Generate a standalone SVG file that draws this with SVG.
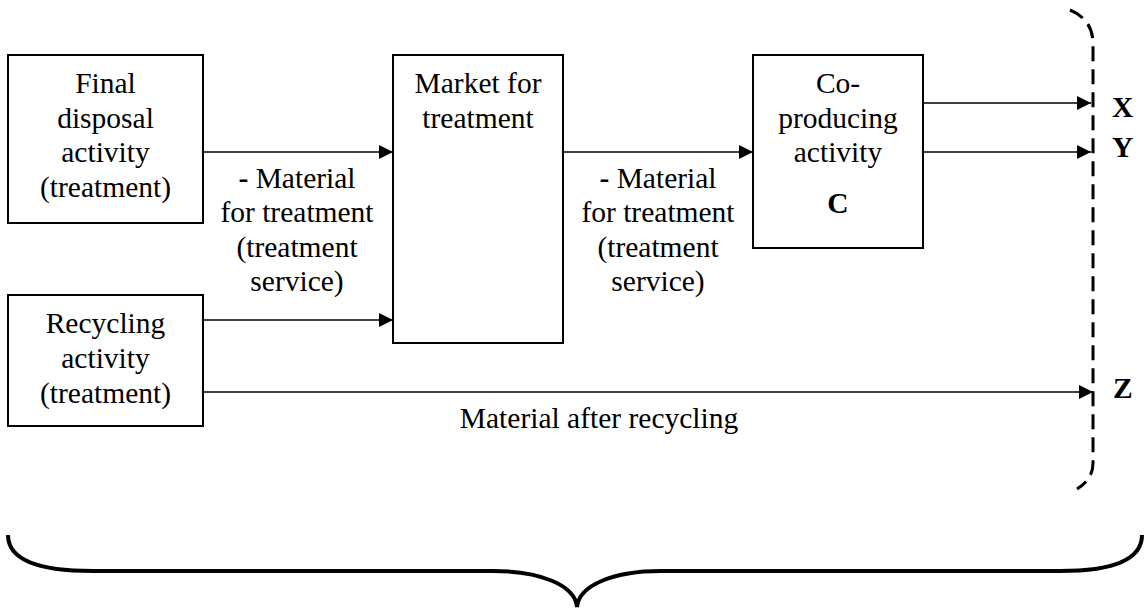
<svg xmlns="http://www.w3.org/2000/svg" width="1146" height="610" viewBox="0 0 1146 610">
  <style>
    .box { fill: #fff; stroke: #000; stroke-width: 2; }
    .lbl { font-family: "Liberation Serif", serif; font-size: 29.5px; fill: #000; text-anchor: middle; }
    .out { font-family: "Liberation Serif", serif; font-size: 29.5px; font-weight: bold; fill: #000; text-anchor: start; }
    .b { font-weight: bold; }
    .edge { fill: none; stroke: #000; stroke-width: 1.6; }
    .bound { fill: none; stroke: #000; stroke-width: 3; stroke-dasharray: 15 8; }
    .brace { fill: none; stroke: #000; stroke-width: 4; }
  </style>
  <defs>
    <marker id="arrow" markerUnits="userSpaceOnUse" markerWidth="15" markerHeight="14" refX="14" refY="7" orient="auto">
      <path d="M0,0 L14,7 L0,14 z" fill="#000"/>
    </marker>
  </defs>
  <rect width="1146" height="610" fill="#fff"/>

  <!-- flows between activities -->
  <g id="connectors">
    <line class="edge" x1="203" y1="152" x2="393" y2="152" marker-end="url(#arrow)"/>
    <line class="edge" x1="203" y1="320" x2="393" y2="320" marker-end="url(#arrow)"/>
    <line class="edge" x1="563" y1="152" x2="753" y2="152" marker-end="url(#arrow)"/>
    <line class="edge" x1="923" y1="103" x2="1091" y2="103" marker-end="url(#arrow)"/>
    <line class="edge" x1="923" y1="152" x2="1091" y2="152" marker-end="url(#arrow)"/>
    <line class="edge" x1="203" y1="392" x2="1093" y2="392" marker-end="url(#arrow)"/>
    <text class="lbl" font-family="Liberation Serif, serif" x="297" y="188"><tspan class="b">-</tspan> Material</text>
    <text class="lbl" font-family="Liberation Serif, serif" x="297" y="222">for treatment</text>
    <text class="lbl" font-family="Liberation Serif, serif" x="297" y="257">(treatment</text>
    <text class="lbl" font-family="Liberation Serif, serif" x="297" y="291">service)</text>
    <text class="lbl" font-family="Liberation Serif, serif" x="658" y="188"><tspan class="b">-</tspan> Material</text>
    <text class="lbl" font-family="Liberation Serif, serif" x="658" y="222">for treatment</text>
    <text class="lbl" font-family="Liberation Serif, serif" x="658" y="257">(treatment</text>
    <text class="lbl" font-family="Liberation Serif, serif" x="658" y="291">service)</text>
    <text class="lbl" font-family="Liberation Serif, serif" x="599" y="428">Material after recycling</text>
  </g>

  <g id="final-disposal">
    <rect class="box" x="8" y="55" width="195" height="168"/>
    <text class="lbl" font-family="Liberation Serif, serif" x="105.5" y="93">Final</text>
    <text class="lbl" font-family="Liberation Serif, serif" x="105.5" y="128">disposal</text>
    <text class="lbl" font-family="Liberation Serif, serif" x="105.5" y="162">activity</text>
    <text class="lbl" font-family="Liberation Serif, serif" x="105.5" y="197">(treatment)</text>
  </g>

  <g id="recycling">
    <rect class="box" x="8" y="295" width="195" height="131"/>
    <text class="lbl" font-family="Liberation Serif, serif" x="105.5" y="333">Recycling</text>
    <text class="lbl" font-family="Liberation Serif, serif" x="105.5" y="368">activity</text>
    <text class="lbl" font-family="Liberation Serif, serif" x="105.5" y="403">(treatment)</text>
  </g>

  <g id="market">
    <rect class="box" x="393" y="55" width="170" height="288"/>
    <text class="lbl" font-family="Liberation Serif, serif" x="478" y="93">Market for</text>
    <text class="lbl" font-family="Liberation Serif, serif" x="478" y="128">treatment</text>
  </g>

  <g id="co-producing">
    <rect class="box" x="753" y="55" width="170" height="193"/>
    <text class="lbl" font-family="Liberation Serif, serif" x="838" y="93">Co-</text>
    <text class="lbl" font-family="Liberation Serif, serif" x="838" y="128">producing</text>
    <text class="lbl" font-family="Liberation Serif, serif" x="838" y="162">activity</text>
    <text class="lbl b" font-family="Liberation Serif, serif" x="838" y="213">C</text>
  </g>

  <!-- system boundary with outputs -->
  <g id="boundary">
    <path class="bound" d="M1070,10 C1085,16 1093,28 1093,43 L1093,463 C1093,474 1088,482 1077,489"/>
    <text class="out" font-family="Liberation Serif, serif" x="1112" y="117">X</text>
    <text class="out" font-family="Liberation Serif, serif" x="1112" y="157">Y</text>
    <text class="out" font-family="Liberation Serif, serif" x="1113" y="398">Z</text>
  </g>

  <g id="brace">
    <path class="brace" d="M8,535 C8,560 40,571 93,571 L493,571 C540,571 575,585 577,607 C579,585 614,571 661,571 L1060,571 C1113,571 1142,560 1142,535"/>
  </g>
</svg>
